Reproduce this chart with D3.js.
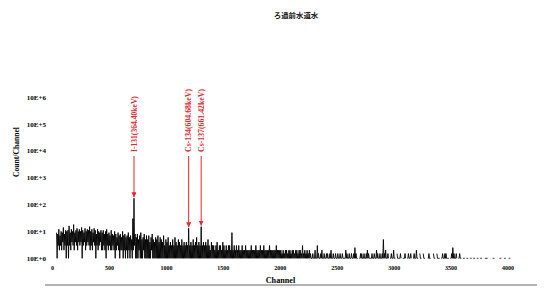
<!DOCTYPE html>
<html><head><meta charset="utf-8">
<script src="https://cdn.jsdelivr.net/npm/d3@7/dist/d3.min.js"></script>
<style>html,body{margin:0;padding:0;background:#fff;}svg{display:block;}</style>
</head><body>
<script>
// ---------- data ----------
const title = "ろ過前水道水";
const xLabel = "Channel";
const yLabel = "Count/Channel";
const xTicks = [0, 500, 1000, 1500, 2000, 2500, 3000, 3500, 4000];
const yTicks = [1, 10, 100, 1e3, 1e4, 1e5, 1e6];
const yTickLabels = ["10E+0", "10E+1", "10E+2", "10E+3", "10E+4", "10E+5", "10E+6"];
const binStart = 40;      // first channel of the dense part
const binStep = 10;       // channels per bin
// highest / lowest count in each 10-channel bin, channels 40..1990
const binHigh = [
  9,8,12,7,10,9,14,8,11,10,   11,16,9,12,10,18,9,11,13,10,
  12,10,14,11,9,13,10,12,11,15, 10,12,9,13,11,8,12,10,9,11,
  9,11,8,10,12,8,9,7,11,8,    7,10,8,6,9,7,8,6,10,7,
  8,6,7,9,6,7,5,30,170,8,     6,8,5,7,9,5,6,8,5,7,
  5,7,4,6,8,5,4,6,5,7,        4,6,5,4,7,3,5,4,6,3,
  4,3,5,3,6,4,3,5,4,3,        5,3,4,3,4,3,13,3,4,3,
  5,3,4,6,3,4,3,15,3,4,       3,4,3,5,3,2,4,3,3,2,
  3,4,2,3,3,2,4,3,2,3,        2,3,3,2,9,2,3,2,3,2,
  3,2,2,3,2,2,3,2,2,2,        2,3,2,2,2,3,2,2,2,3,
  2,2,3,2,2,2,2,3,2,2,        2,2,2,3,2,2
];
const binLow = [
  1,3,2,3,2,4,2,3,1,3,        1,3,2,4,3,2,4,3,2,4,
  3,4,1,3,4,2,3,4,3,2,        3,2,4,3,1,3,2,3,4,2,
  2,3,2,1,3,2,3,2,2,3,        2,1,2,3,2,1,2,2,1,2,
  1,2,1,2,1,2,1,2,3,1,        1,1,2,1,1,1,2,1,1,1,
  1,1,1,2,1,1,1,1,1,1,        1,1,1,1,1,1,1,1,1,1,
  1,1,1,1,1,1,1,1,1,1,        1,1,1,1,1,1,1,1,1,1,
  1,1,1,1,1,1,1,1,1,1,        1,1,1,1,1,1,1,1,1,1,
  1,1,1,1,1,1,1,1,1,1,        1,1,1,1,1,1,1,1,1,1,
  1,1,1,1,1,1,1,1,1,1,        1,1,1,1,1,1,1,1,1,1,
  1,1,1,1,1,1,1,1,1,1,        1,1,1,1,1,1
];
const tailStart = 2000;   // sparse tail, peak count per 10 channels (0 = empty)
const tailCounts = [
  2,2,1.5,2,1.5,2,2,1.5,2,2,  1.5,2,2,1.5,2,2,1.5,2,2,1.5,  3,1.5,2,1.5,2,1.5,2,1.5,1,1.5,
  1,2,1,3,1.5,1,1.5,2,1,1.5,  1,1.5,1.5,1,1.5,2,1,1.5,1,1.5,  1,1.5,1,1.5,1,1.5,1,1,2,1.5,
  1,1.5,1,1.5,1,1.5,2.5,1.5,1,0,  1,1.5,1.5,1,1.5,1,1.5,2,1.5,1,  1,1.5,1,1.5,1,2,1.5,1,1.5,1,
  1.5,5,1.5,2,1,1.5,0,1,1.5,1,  2,1,0,1.5,1,1,1.5,0,1,1,  1.5,0,1,1.5,1,1.5,0,1,1.5,1,
  2,1,0,1.5,1,0,1.5,1,0,0,  1,1.5,1,0,0,1.5,1,0,1.5,1,  1,0,1,1.5,1,1.5,1.5,1,1,0,
  1,1.5,2.5,1.5,1,1.5,0,1,1.5,1,  0,1,1,0,1,1,0,1,1,0,  1,1,0,1,1,0,1,1,0,0,
  1,1,1,0,0,0,0,1,1,0,  0,0,0,1,1,0,0,1,1,0,  0,1,1,0,0
];
const peakLabels = ["I-131(364.40keV)", "Cs-134(604.68keV)", "Cs-137(661.42keV)"];
const peakChannels = [720, 1200, 1310];
const peakCounts = [170, 13, 15];

// ---------- drawing ----------
const W = 552, H = 291;
const svg = d3.select("body").append("svg").attr("width", W).attr("height", H);
const x = d3.scaleLinear().domain([0, 4000]).range([52, 507.5]);
const y = d3.scaleLog().domain([1, 1e6]).range([258.3, 96.9]);
const serif = "'Liberation Serif','Times New Roman',serif";

svg.append("text").attr("x", 296).attr("y", 18).attr("text-anchor", "middle")
  .attr("font-family", "'Noto Sans CJK JP',sans-serif").attr("font-weight", "bold")
  .attr("font-size", 7.4).attr("fill", "#111").text(title);

// y axis labels
const yAxis = d3.axisLeft(y).tickValues(yTicks).tickSize(0).tickPadding(0)
  .tickFormat((d, i) => yTickLabels[i]);
const gy = svg.append("g").attr("transform", "translate(46,0)").call(yAxis);
gy.select(".domain").remove();
gy.selectAll("text").attr("font-family", serif).attr("font-weight", "bold")
  .attr("font-size", 7).attr("fill", "#000");

// x axis labels
const xAxis = d3.axisBottom(x).tickValues(xTicks).tickSize(0).tickPadding(0)
  .tickFormat(d3.format("d"));
const gx = svg.append("g").attr("transform", "translate(0,266)").call(xAxis);
gx.select(".domain").remove();
gx.selectAll("text").attr("font-family", serif).attr("font-weight", "bold")
  .attr("font-size", 6).attr("fill", "#000");

svg.append("text").attr("transform", "translate(19,152) rotate(-90)")
  .attr("text-anchor", "middle").attr("font-family", serif).attr("font-weight", "bold")
  .attr("font-size", 7.6).attr("fill", "#000").text(yLabel);
svg.append("text").attr("x", 280.5).attr("y", 283).attr("text-anchor", "middle")
  .attr("font-family", serif).attr("font-weight", "bold")
  .attr("font-size", 8.2).attr("fill", "#000").text(xLabel);

svg.append("line").attr("x1", 45).attr("x2", 537).attr("y1", 285).attr("y2", 285)
  .attr("stroke", "#9a9a9a").attr("stroke-width", 1.6);

// spectrum: each bin drawn as a high/low zig-zag (tail bins drop back to 1)
const pts = [];
binHigh.forEach((h, i) => {
  const ch = binStart + i * binStep;
  pts.push({ ch: ch, c: h });
  pts.push({ ch: ch + binStep / 2, c: binLow[i] });
});
tailCounts.forEach((c, i) => {
  const ch = tailStart + i * binStep;
  pts.push({ ch: ch, c: c });
  pts.push({ ch: ch + binStep / 2, c: c > 0 ? 1 : 0 });
});
const line = d3.line().defined(d => d.c > 0).x(d => x(d.ch)).y(d => y(d.c));
svg.append("path").datum(pts).attr("d", line).attr("fill", "none")
  .attr("stroke", "#000").attr("stroke-width", 0.9);

// peak annotations
const red = "#e8252b";
svg.append("defs").append("marker").attr("id", "ah").attr("viewBox", "0 0 10 10")
  .attr("refX", 10).attr("refY", 5).attr("markerWidth", 5).attr("markerHeight", 5)
  .attr("orient", "auto").append("path").attr("d", "M0,0 L10,5 L0,10 Z").attr("fill", red);
peakLabels.forEach((lab, i) => {
  const px = x(peakChannels[i]);
  svg.append("line").attr("x1", px).attr("x2", px).attr("y1", 156)
    .attr("y2", y(peakCounts[i]) - 1).attr("stroke", red).attr("stroke-width", 1)
    .attr("marker-end", "url(#ah)");
  svg.append("text").attr("transform", `translate(${px + 2.6},152) rotate(-90)`)
    .attr("text-anchor", "start").attr("font-family", serif).attr("font-weight", "bold")
    .attr("font-size", i === 0 ? 7.6 : 7.8).attr("fill", red).text(lab);
});
</script>
</body></html>
